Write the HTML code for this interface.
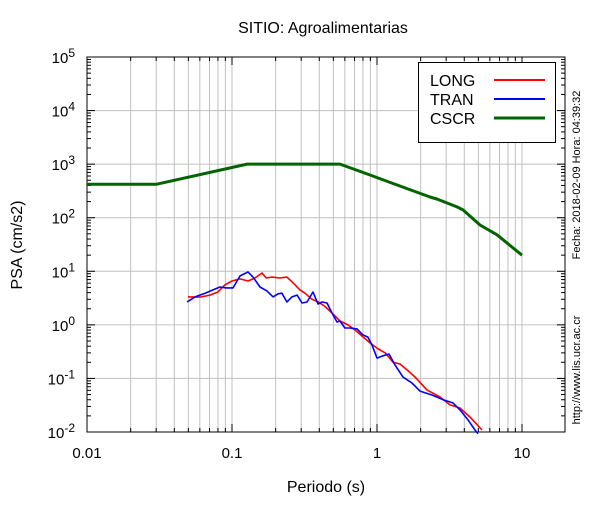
<!DOCTYPE html>
<html><head><meta charset="utf-8"><style>
body{margin:0;background:#fff;}
svg text{font-family:"Liberation Sans",sans-serif;}
</style></head><body>
<svg id="chart" width="600" height="500"></svg>
<script>
const periodsLong=[0.0497,0.060,0.0705,0.080,0.0895,0.1,0.1135,0.129,0.144,0.161,0.172,0.189,0.214,0.239,0.264,0.294,0.319,0.356,0.392,0.438,0.489,0.556,0.631,0.705,0.788,0.895,1.02,1.14,1.29,1.44,1.64,1.83,2.21,2.72,3.19,3.73,4.38,5.30];
const psaLong=[3.32,3.3,3.6,4.1,5.6,6.6,7.2,6.6,7.5,9.3,7.5,7.8,7.5,7.8,6.1,4.5,3.9,3.0,2.7,2.2,1.67,1.18,1.0,0.80,0.62,0.46,0.355,0.30,0.20,0.186,0.138,0.106,0.061,0.045,0.032,0.028,0.019,0.0109];
const periodsTran=[0.049,0.0556,0.0652,0.074,0.0826,0.091,0.1016,0.1135,0.129,0.1395,0.156,0.174,0.192,0.208,0.221,0.239,0.259,0.281,0.304,0.329,0.362,0.392,0.418,0.452,0.489,0.530,0.556,0.601,0.651,0.728,0.800,0.866,0.924,1.0,1.08,1.21,1.33,1.51,1.74,1.98,2.39,2.85,3.34,3.73,4.24,4.74,4.97];
const psaTran=[2.67,3.32,3.9,4.5,5.1,4.9,4.9,8.2,9.7,7.8,5.1,4.3,3.32,3.8,3.9,2.67,3.32,3.6,2.56,2.67,4.1,2.45,2.67,2.56,1.67,1.13,1.18,0.875,0.875,0.84,0.65,0.59,0.42,0.24,0.26,0.286,0.178,0.106,0.082,0.058,0.049,0.040,0.035,0.026,0.0168,0.0109,0.0093];
const periodsCscr=[0.01,0.03,0.127,0.556,0.895,1.37,2.32,2.59,3.56,3.92,5.13,6.72,10];
const psaCscr=[420,420,1000,1000,628,409,244,224,159,140,73,48,20];
const xTickVals=[0.01,0.1,1,10];
const xTickLabels=["0.01","0.1","1","10"];
const yExps=[-2,-1,0,1,2,3,4,5];

const L=87,R=565,T=57,B=432;
const xs=v=>L+(Math.log10(v)+2)*145;
const ys=v=>B-(Math.log10(v)+2)*(B-T)/7;
const NS="http://www.w3.org/2000/svg";
const svg=document.getElementById('chart');
function mk(tag,attrs,parent){const e=document.createElementNS(NS,tag);for(const k in attrs)e.setAttribute(k,attrs[k]);(parent||svg).appendChild(e);return e;}

// grid
const grid=mk('g',{});


for(let d=-2;d<=1;d++){for(let m=1;m<=9;m++){const v=m*Math.pow(10,d);const x=xs(v);if(x<=L||x>=R)continue;mk('line',{x1:x,x2:x,y1:T,y2:B,stroke:'#c0c0c0','stroke-width':1},grid);}}
yExps.forEach(e=>{const y=ys(Math.pow(10,e));if(y>T&&y<B)mk('line',{x1:L,x2:R,y1:y,y2:y,stroke:'#c0c0c0','stroke-width':1},grid);});

// frame
const frame=mk('rect',{x:L,y:T,width:R-L,height:B-T,fill:'none',stroke:'#000','stroke-width':1});



// ticks
const ticks=mk('g',{stroke:'#000','stroke-width':1});


for(let d=-2;d<=1;d++){for(let m=1;m<=9;m++){const v=m*Math.pow(10,d);const x=xs(v);if(x<L||x>R)continue;const len=m===1?8:4;mk('line',{x1:x,x2:x,y1:B,y2:B-len},ticks);mk('line',{x1:x,x2:x,y1:T,y2:T+len},ticks);}}
for(let e=-2;e<=5;e++){for(let m=1;m<=9;m++){const v=m*Math.pow(10,e);const y=ys(v);if(y<T-0.5||y>B+0.5)continue;const len=m===1?8:4;mk('line',{x1:L,x2:L+len,y1:y,y2:y},ticks);mk('line',{x1:R,x2:R-len,y1:y,y2:y},ticks);}}

// tick labels
xTickVals.forEach((v,i)=>{const t=mk('text',{x:xs(v),y:B+26,'text-anchor':'middle','font-size':15});t.textContent=xTickLabels[i];

});
yExps.forEach(e=>{const t=mk('text',{x:L-12,y:ys(Math.pow(10,e))+6,'text-anchor':'end','font-size':15});t.textContent='10';const s=mk('tspan',{dy:-6,'font-size':12},t);s.textContent=String(e);

});

// series
function line(px,py,color,w,name){const d=px.map((p,i)=>(i?'L':'M')+xs(p).toFixed(1)+','+ys(py[i]).toFixed(1)).join('');const p=mk('path',{d:d,fill:'none',stroke:color,'stroke-width':w,'stroke-linejoin':'round'});

}
line(periodsCscr,psaCscr,'#006400',3,'cscr-line');
line(periodsLong,psaLong,'#ff0000',1.6,'long-line');
line(periodsTran,psaTran,'#0000ff',1.6,'tran-line');

// titles
const tt=mk('text',{x:323,y:33,'text-anchor':'middle','font-size':16});tt.textContent='SITIO: Agroalimentarias';


const xt=mk('text',{x:326,y:492,'text-anchor':'middle','font-size':16});xt.textContent='Periodo (s)';


const yt=mk('text',{x:22,y:245,'text-anchor':'middle','font-size':16,transform:'rotate(-90 22 245)'});yt.textContent='PSA (cm/s2)';


const dt=mk('text',{x:580,y:175,'text-anchor':'middle','font-size':11,transform:'rotate(-90 580 175)'});dt.textContent='Fecha: 2018-02-09 Hora: 04:39:32';


const ur=mk('text',{x:580,y:370,'text-anchor':'middle','font-size':11,transform:'rotate(-90 580 370)'});ur.textContent='http://www.lis.ucr.ac.cr';



// legend
const lg=mk('g',{});


mk('rect',{x:418.5,y:62.5,width:137,height:80,fill:'#fff',stroke:'#000','stroke-width':1},lg);
[['LONG','#ff0000',2],['TRAN','#0000ff',2],['CSCR','#006400',3]].forEach((s,i)=>{const y=80+i*19;const t=mk('text',{x:430,y:y+6,'font-size':16},lg);t.textContent=s[0];


mk('line',{x1:494,x2:545,y1:y,y2:y,stroke:s[1],'stroke-width':s[2]},lg);});
</script>
</body></html>
